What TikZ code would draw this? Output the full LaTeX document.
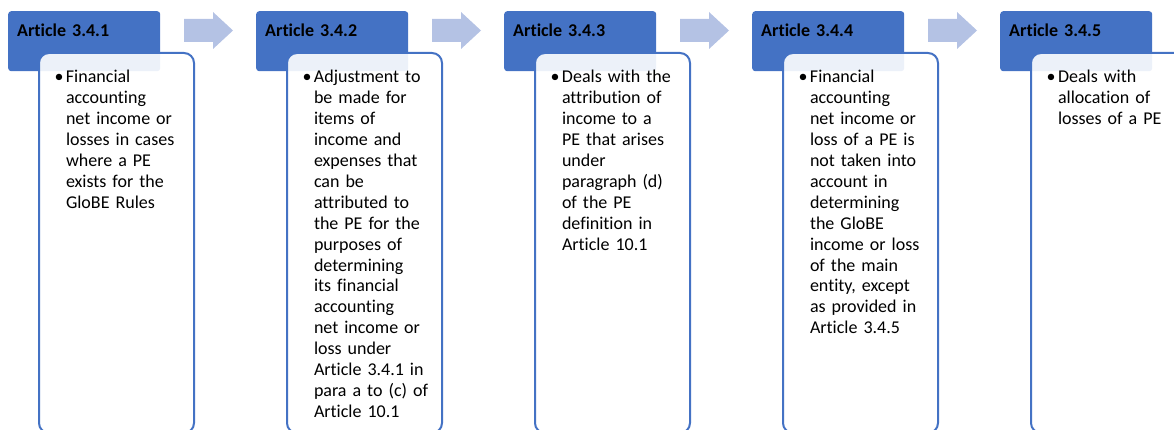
\documentclass[tikz,border=0pt]{standalone}
\usepackage{fontspec}
\setmainfont{Carlito}[Ligatures=NoCommon]
\definecolor{accent}{HTML}{4472C4}
\definecolor{arrowc}{HTML}{B4C2E4}
\tikzset{
  hdr/.style={fill=accent, rounded corners=3pt, anchor=north west,
    minimum width=152pt, minimum height=60pt, inner xsep=9pt, inner ysep=0pt,
    text width=134pt, align=left, text height=25pt, text depth=35pt,
    font=\bfseries\fontsize{18}{20.9}\selectfont},
  bodybox/.style={draw=accent, line width=2pt, fill=white, fill opacity=0.9, text opacity=1,
    rounded corners=10pt, anchor=north west, minimum width=155pt,
    inner xsep=17pt, inner ysep=0pt, text width=121pt, align=left,
    text height=30pt, text depth=350pt, font=\fontsize{18}{20.9}\selectfont},
  flowarrow/.style={fill=arrowc}
}
\newcommand{\bul}[1]{\makebox[10pt][l]{\hspace*{-1.5pt}\textbullet}\begin{tabular}[t]{@{}l@{}}#1\end{tabular}}
\begin{document}
\begin{tikzpicture}[x=1pt,y=-1pt]
\useasboundingbox (0,0) rectangle (1174,430);
\clip (0,0) rectangle (1174,430);
% headers
\node[hdr] (h1) at (8,11) {Article 3.4.1};
\node[hdr] (h2) at (256,11) {Article 3.4.2};
\node[hdr] (h3) at (504,11) {Article 3.4.3};
\node[hdr] (h4) at (752,11) {Article 3.4.4};
\node[hdr] (h5) at (1000,11) {Article 3.4.5};
% bodies
\node[bodybox] (b1) at (38,52) {\bul{Financial\\accounting\\net income or\\losses in cases\\where a PE\\exists for the\\GloBE Rules}};
\node[bodybox] (b2) at (286,52) {\bul{Adjustment to\\be made for\\items of\\income and\\expenses that\\can be\\attributed to\\the PE for the\\purposes of\\determining\\its financial\\accounting\\net income or\\loss under\\Article 3.4.1 in\\para a to (c) of\\Article 10.1}};
\node[bodybox] (b3) at (534,52) {\bul{Deals with the\\attribution of\\income to a\\PE that arises\\under\\paragraph (d)\\of the PE\\definition in\\Article 10.1}};
\node[bodybox] (b4) at (782,52) {\bul{Financial\\accounting\\net income or\\loss of a PE is\\not taken into\\account in\\determining\\the GloBE\\income or loss\\of the main\\entity, except\\as provided in\\Article 3.4.5}};
\node[bodybox] (b5) at (1030,52) {\bul{Deals with\\allocation of\\losses of a PE}};
% block arrows
\foreach \i in {0,1,2,3} {
  \pgfmathsetmacro{\ax}{184+248*\i}
  \fill[flowarrow] (\ax,19) -- (\ax+29,19) -- (\ax+29,12) -- (\ax+49,30.5) -- (\ax+29,49) -- (\ax+29,42) -- (\ax,42) -- cycle;
}
\end{tikzpicture}
\end{document}
